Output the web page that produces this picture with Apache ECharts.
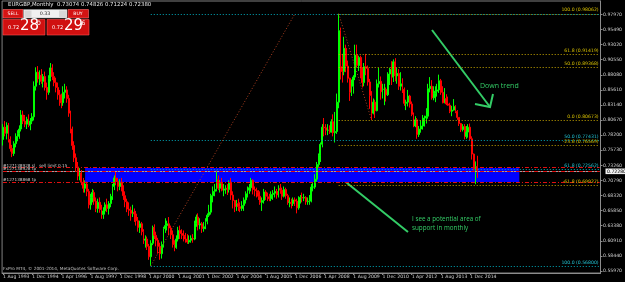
<!DOCTYPE html>
<html><head><meta charset="utf-8">
<script src="https://cdn.jsdelivr.net/npm/echarts@6/dist/echarts.min.js"></script>
<style>html,body{margin:0;padding:0;background:#000;}#c{width:625px;height:282px;}</style>
</head><body><div id="c"></div><script>
// ---- data (monthly EURGBP, Aug 1993 .. Apr 2015) ----
const firstYear = 1993, firstMonth = 7; // Aug
const totalSlots = 328;
const opens = [
0.775,0.795,0.785,0.798,0.775,
0.760,0.752,0.768,0.780,0.785,0.792,0.815,0.805,0.800,0.808,0.798,0.805,
0.812,0.862,0.885,0.874,0.880,0.870,0.878,0.860,0.852,0.875,0.892,0.878,
0.868,0.860,0.848,0.838,0.835,0.852,0.856,0.842,0.818,0.792,0.765,0.745,
0.730,0.715,0.720,0.705,0.695,0.702,0.690,0.668,0.680,0.688,0.674,0.662,
0.672,0.660,0.652,0.658,0.668,0.662,0.670,0.682,0.698,0.712,0.706,0.698,
0.705,0.697,0.683,0.673,0.661,0.659,0.654,0.656,0.653,0.642,0.631,0.637,
0.624,0.610,0.612,0.600,0.583,0.605,0.631,0.618,0.610,0.600,0.588,0.603,
0.629,0.634,0.637,0.630,0.619,0.603,0.598,0.612,0.626,0.621,0.618,0.616,
0.612,0.607,0.610,0.613,0.612,0.638,0.648,0.635,0.637,0.629,0.632,0.641,
0.651,0.656,0.683,0.690,0.693,0.709,0.695,0.703,0.692,0.694,0.695,0.693,
0.705,0.684,0.675,0.665,0.670,0.665,0.662,0.667,0.676,0.686,0.692,0.696,
0.708,0.693,0.691,0.688,0.682,0.672,0.675,0.689,0.682,0.681,0.678,0.685,
0.687,0.690,0.684,0.695,0.692,0.682,0.693,0.683,0.672,0.672,0.670,0.676,
0.674,0.663,0.676,0.680,0.679,0.680,0.673,0.674,0.674,0.697,0.697,0.710,
0.734,0.748,0.767,0.795,0.794,0.790,0.790,0.787,0.804,0.786,0.788,0.836,
0.953,0.894,0.886,0.924,0.895,0.875,0.852,0.862,0.877,0.913,0.896,0.909,
0.887,0.868,0.894,0.891,0.869,0.847,0.818,0.836,0.822,0.866,0.870,0.853,
0.857,0.857,0.848,0.882,0.890,0.877,0.902,0.879,0.883,0.862,0.866,0.857,
0.834,0.836,0.846,0.833,0.816,0.797,0.807,0.783,0.792,0.797,0.806,0.810,
0.813,0.858,0.862,0.843,0.850,0.854,0.856,0.871,0.852,0.835,0.842,0.833,
0.831,0.821,0.823,0.829,0.821,0.811,0.801,0.791,0.796,0.780,0.787,0.795,
0.776,0.751,0.727,0.73074];
const closes = [
0.795,0.785,0.798,0.775,0.760,
0.752,0.768,0.780,0.785,0.792,0.815,0.805,0.800,0.808,0.798,0.805,0.812,
0.862,0.885,0.874,0.880,0.870,0.878,0.860,0.852,0.875,0.892,0.878,0.868,
0.860,0.848,0.838,0.835,0.852,0.856,0.842,0.818,0.792,0.765,0.745,0.730,
0.715,0.720,0.705,0.695,0.702,0.690,0.668,0.680,0.688,0.674,0.662,0.672,
0.660,0.652,0.658,0.668,0.662,0.670,0.682,0.698,0.712,0.706,0.698,0.705,
0.697,0.683,0.673,0.661,0.659,0.654,0.656,0.653,0.642,0.631,0.637,0.624,
0.610,0.612,0.600,0.583,0.605,0.631,0.618,0.610,0.600,0.588,0.603,0.629,
0.634,0.637,0.630,0.619,0.603,0.598,0.612,0.626,0.621,0.618,0.616,0.612,
0.607,0.610,0.613,0.612,0.638,0.648,0.635,0.637,0.629,0.632,0.641,0.651,
0.656,0.683,0.690,0.693,0.709,0.695,0.703,0.692,0.694,0.695,0.693,0.705,
0.684,0.675,0.665,0.670,0.665,0.662,0.667,0.676,0.686,0.692,0.696,0.708,
0.693,0.691,0.688,0.682,0.672,0.675,0.689,0.682,0.681,0.678,0.685,0.687,
0.690,0.684,0.695,0.692,0.682,0.693,0.683,0.672,0.672,0.670,0.676,0.674,
0.663,0.676,0.680,0.679,0.680,0.673,0.674,0.674,0.697,0.697,0.710,0.734,
0.748,0.767,0.795,0.794,0.790,0.790,0.787,0.804,0.786,0.788,0.836,0.953,
0.894,0.886,0.924,0.895,0.875,0.852,0.862,0.877,0.913,0.896,0.909,0.887,
0.868,0.894,0.891,0.869,0.847,0.818,0.836,0.822,0.866,0.870,0.853,0.857,
0.857,0.848,0.882,0.890,0.877,0.902,0.879,0.883,0.862,0.866,0.857,0.834,
0.836,0.846,0.833,0.816,0.797,0.807,0.783,0.792,0.797,0.806,0.810,0.813,
0.858,0.862,0.843,0.850,0.854,0.856,0.871,0.852,0.835,0.842,0.833,0.831,
0.821,0.823,0.829,0.821,0.811,0.801,0.791,0.796,0.780,0.787,0.795,0.776,
0.751,0.727,0.7307,0.72380];
const highs = [
0.800,0.805,0.803,0.802,0.780,
0.766,0.772,0.785,0.790,0.798,0.823,0.822,0.815,0.812,0.816,0.810,0.818,
0.870,0.893,0.895,0.888,0.890,0.882,0.886,0.868,0.880,0.900,0.898,0.885,
0.876,0.868,0.856,0.850,0.862,0.866,0.862,0.848,0.822,0.796,0.772,0.752,
0.738,0.728,0.725,0.712,0.708,0.706,0.694,0.686,0.694,0.692,0.680,0.678,
0.680,0.668,0.664,0.672,0.678,0.674,0.686,0.702,0.716,0.722,0.712,0.710,
0.712,0.700,0.690,0.678,0.672,0.665,0.668,0.662,0.658,0.648,0.642,0.640,
0.628,0.618,0.616,0.604,0.610,0.634,0.636,0.624,0.614,0.606,0.608,0.632,
0.646,0.642,0.648,0.634,0.626,0.610,0.618,0.632,0.634,0.628,0.626,0.622,
0.620,0.618,0.618,0.620,0.642,0.652,0.654,0.646,0.640,0.640,0.646,0.654,
0.668,0.686,0.698,0.702,0.724,0.716,0.708,0.712,0.702,0.700,0.702,0.708,
0.712,0.690,0.676,0.676,0.678,0.672,0.674,0.680,0.690,0.698,0.702,0.712,
0.710,0.698,0.696,0.692,0.690,0.680,0.694,0.692,0.688,0.686,0.690,0.692,
0.698,0.694,0.700,0.702,0.696,0.698,0.696,0.686,0.680,0.678,0.680,0.680,
0.678,0.682,0.684,0.688,0.686,0.682,0.680,0.684,0.702,0.704,0.718,0.738,
0.752,0.770,0.800,0.810,0.800,0.800,0.798,0.808,0.816,0.820,0.850,0.9806,
0.958,0.915,0.943,0.930,0.904,0.876,0.873,0.880,0.930,0.930,0.912,0.912,
0.893,0.900,0.915,0.896,0.874,0.854,0.842,0.840,0.873,0.892,0.878,0.866,
0.866,0.860,0.885,0.892,0.903,0.906,0.908,0.892,0.890,0.885,0.875,0.860,
0.840,0.856,0.848,0.837,0.819,0.813,0.810,0.797,0.806,0.815,0.814,0.826,
0.866,0.877,0.872,0.862,0.862,0.866,0.881,0.874,0.862,0.859,0.849,0.845,
0.835,0.830,0.841,0.831,0.823,0.811,0.802,0.800,0.800,0.797,0.800,0.801,
0.780,0.752,0.739,0.74826];
const lows = [
0.765,0.780,0.775,0.770,0.755,
0.746,0.748,0.762,0.772,0.776,0.788,0.800,0.795,0.792,0.795,0.790,0.800,
0.806,0.855,0.868,0.864,0.866,0.860,0.855,0.840,0.848,0.870,0.872,0.862,
0.852,0.840,0.830,0.826,0.830,0.842,0.835,0.812,0.785,0.758,0.738,0.722,
0.708,0.708,0.700,0.688,0.688,0.682,0.662,0.660,0.672,0.668,0.656,0.655,
0.655,0.645,0.645,0.652,0.656,0.652,0.664,0.676,0.692,0.700,0.690,0.692,
0.690,0.676,0.664,0.656,0.650,0.642,0.648,0.640,0.634,0.624,0.622,0.618,
0.604,0.598,0.594,0.578,0.568,0.602,0.612,0.600,0.588,0.578,0.580,0.598,
0.622,0.626,0.618,0.612,0.598,0.592,0.596,0.608,0.612,0.612,0.608,0.606,
0.604,0.604,0.606,0.606,0.610,0.632,0.626,0.628,0.622,0.624,0.628,0.636,
0.648,0.652,0.672,0.682,0.690,0.692,0.688,0.690,0.682,0.686,0.684,0.688,
0.676,0.662,0.656,0.658,0.658,0.656,0.658,0.658,0.670,0.680,0.686,0.690,
0.685,0.682,0.680,0.676,0.668,0.658,0.670,0.676,0.674,0.674,0.674,0.676,
0.680,0.678,0.680,0.686,0.676,0.680,0.678,0.668,0.664,0.662,0.666,0.666,
0.654,0.660,0.670,0.672,0.674,0.668,0.668,0.668,0.672,0.690,0.694,0.706,
0.730,0.738,0.762,0.780,0.782,0.782,0.784,0.786,0.780,0.770,0.784,0.826,
0.873,0.868,0.880,0.885,0.868,0.838,0.846,0.850,0.872,0.893,0.887,0.875,
0.860,0.862,0.880,0.863,0.825,0.8067,0.816,0.810,0.821,0.860,0.840,0.842,
0.831,0.837,0.846,0.864,0.864,0.869,0.870,0.866,0.856,0.855,0.851,0.830,
0.823,0.829,0.827,0.813,0.795,0.795,0.776,0.779,0.786,0.791,0.796,0.801,
0.809,0.852,0.840,0.839,0.836,0.845,0.851,0.848,0.834,0.834,0.831,0.830,
0.818,0.813,0.822,0.818,0.807,0.797,0.787,0.788,0.775,0.776,0.778,0.774,
0.742,0.724,0.7016,0.71224];
const yTicks = [0.5597,0.5844,0.6091,0.6338,0.6585,0.6832,0.7079,0.7326,0.7573,0.7820,0.8067,0.8314,0.8561,0.8808,0.9055,0.9302,0.9549,0.9797];
const yMin = 0.5564, yMax = 1.0015;
const xLabelStep = 16;
// Fibonacci objects
const yellowLevels = [0.98062,0.91419,0.89368,0.80673,0.76569,0.69927];
const yellowNames  = ['100.0','61.8','50.0','0.0','-23.6','-61.8'];
const yellowFrom = 184, yellowTo = 202;
const cyanLevels = [0.98062,0.77431,0.72562,0.56800];
const cyanNames  = ['','50.0','61.8','100.0'];
const cyanFrom = 81, cyanTo = 160;
// order lines and support zone
const orderLevels = [0.7290,0.7228,0.7055];
const orderNames = ['#127138928 sl','#127138928 tp','#127138868 tp'];
const bidPrice = 0.72280;
const zoneTop = 0.7282, zoneBottom = 0.7053, zoneFrom = 45, zoneTo = 283;

const monNames = ['Jan','Feb','Mar','Apr','May','Jun','Jul','Aug','Sep','Oct','Nov','Dec'];
const cats = [];
for (let k = 0; k < totalSlots; k++) {
  const m = firstMonth + k;
  cats.push(monNames[m % 12] + ' ' + (firstYear + Math.floor(m / 12)));
}
const lastIdx = opens.length - 1;
const candleData = opens.map((o, i) => [o, closes[i], lows[i], highs[i]]);
const showX = (idx) => idx % xLabelStep === 0 && idx <= lastIdx;
const endCat = cats[totalSlots - 1];
const fz = 4.6;
const ff = 'DejaVu Sans';

const markLines = [];
yellowLevels.forEach((v, i) => markLines.push([
  {coord: [cats[yellowFrom], v], lineStyle: {color: '#c9a800', type: [1, 2], width: 1},
   label: {show: true, position: 'insideEndTop', distance: 1, color: '#d8c000', fontSize: fz, fontFamily: ff,
     formatter: yellowNames[i] + ' (' + v.toFixed(5) + ')'}},
  {coord: [endCat, v]}]));
cyanLevels.forEach((v, i) => markLines.push([
  {coord: [cats[cyanFrom], v], lineStyle: {color: '#00aabb', type: [1, 2], width: 1},
   label: {show: cyanNames[i] !== '', position: 'insideEndTop', distance: 1, color: '#22c4d4', fontSize: fz, fontFamily: ff,
     formatter: cyanNames[i] + ' (' + v.toFixed(5) + ')'}},
  {coord: [endCat, v]}]));
markLines.push([{coord: [cats[cyanFrom], cyanLevels[3]], lineStyle: {color: '#b04020', type: [1, 2], width: 1}, label: {show: false}},
                {coord: [cats[cyanTo], cyanLevels[0]]}]);
markLines.push([{coord: [cats[yellowFrom], yellowLevels[0]], lineStyle: {color: '#b04020', type: [1, 2], width: 1}, label: {show: false}},
                {coord: [cats[yellowTo], yellowLevels[3]]}]);
// bid line
markLines.push([{coord: [cats[0], bidPrice], lineStyle: {color: '#a0a0a0', type: 'solid', width: 1}, label: {show: false}},
                {coord: [endCat, bidPrice]}]);
orderLevels.forEach((v, i) => markLines.push([
  {coord: [cats[0], v], lineStyle: {color: '#e01010', type: [4, 2, 1, 2], width: 1},
   label: {show: true, position: 'insideStartTop', distance: 0, color: '#c8c8c8', fontSize: 4.2, fontFamily: ff,
     formatter: orderNames[i] + (i === 0 ? '   sell limit 0.15' : '')}},
  {coord: [endCat, v]}]));

const chart = echarts.init(document.getElementById('c'));
const green = '#33cc66';
chart.setOption({
  backgroundColor: '#000',
  animation: false,
  grid: {left: 2, right: 20, top: 1, bottom: 9, show: true, borderColor: '#808080', borderWidth: 1},
  xAxis: {
    type: 'category', data: cats, boundaryGap: true,
    axisLine: {lineStyle: {color: '#8c8c8c'}},
    axisTick: {show: true, interval: showX, alignWithLabel: true, length: 2, lineStyle: {color: '#8c8c8c'}},
    axisLabel: {interval: showX, formatter: v => '1 ' + v, align: 'left', fontSize: 4.6, fontFamily: ff, color: '#d0d0d0', margin: 1.5},
    splitLine: {show: false}
  },
  yAxis: {
    type: 'value', position: 'right', min: yMin, max: yMax,
    axisLine: {show: true, lineStyle: {color: '#8c8c8c'}},
    axisTick: {show: true, length: 2, customValues: yTicks, lineStyle: {color: '#8c8c8c'}},
    axisLabel: {customValues: yTicks, formatter: v => v.toFixed(5), fontSize: 4.6, fontFamily: ff, color: '#d0d0d0', margin: 2.5},
    splitLine: {show: false}
  },
  series: [
    {type: 'line', data: [], z: 1, silent: true,
     markArea: {silent: true, itemStyle: {color: '#0000ff'},
       data: [[{coord: [cats[zoneFrom], zoneTop]}, {coord: [cats[zoneTo], zoneBottom]}]]}},
    {type: 'candlestick', data: candleData, z: 2, barWidth: 1.4, silent: true,
     itemStyle: {color: '#00ff00', color0: '#ff0000', borderColor: '#00ff00', borderColor0: '#ff0000', borderWidth: 1}},
    {type: 'line', data: [], z: 3, silent: true,
     markLine: {silent: true, symbol: ['none', 'none'], animation: false, data: markLines}}
  ],
  graphic: {elements: [
    {id: 'title', type: 'text', left: 8, top: 2, style: {text: 'EURGBP,Monthly  0.73074 0.74826 0.71224 0.72380', fill: '#e8e8e8', fontSize: 5.4, fontFamily: ff}},
    {id: 'sellBtn', type: 'rect', shape: {x: 3, y: 9.5, width: 20, height: 8.5}, style: {fill: '#d41414', stroke: '#ff7070', lineWidth: 0.6}},
    {id: 'sellTxt', type: 'text', x: 13, y: 13.8, style: {text: 'SELL', fill: '#fff', fontSize: 4.6, fontFamily: ff, align: 'center', verticalAlign: 'middle'}},
    {id: 'lotBox', type: 'rect', shape: {x: 23.5, y: 9.5, width: 43.5, height: 8.5}, style: {fill: '#f0f0f0', stroke: '#a0a0a0', lineWidth: 0.5}},
    {id: 'lotL', type: 'rect', shape: {x: 24.5, y: 10.5, width: 7, height: 6.5}, style: {fill: '#d8d8d8'}},
    {id: 'lotR', type: 'rect', shape: {x: 59, y: 10.5, width: 7, height: 6.5}, style: {fill: '#d8d8d8'}},
    {id: 'lotTxt', type: 'text', x: 45, y: 13.8, style: {text: '0.33', fill: '#202020', fontSize: 4.8, fontFamily: ff, align: 'center', verticalAlign: 'middle'}},
    {id: 'buyBtn', type: 'rect', shape: {x: 68, y: 9.5, width: 20.5, height: 8.5}, style: {fill: '#d41414', stroke: '#ff7070', lineWidth: 0.6}},
    {id: 'buyTxt', type: 'text', x: 78, y: 13.8, style: {text: 'BUY', fill: '#fff', fontSize: 4.6, fontFamily: ff, align: 'center', verticalAlign: 'middle'}},
    {id: 'sellBox', type: 'rect', shape: {x: 3, y: 19.5, width: 42, height: 15.5}, style: {fill: '#d01010', stroke: '#ff5050', lineWidth: 0.6}},
    {id: 'sellP1', type: 'text', x: 8, y: 30.5, style: {text: '0.72', fill: '#fff', fontSize: 5, fontFamily: ff, verticalAlign: 'bottom'}},
    {id: 'sellP2', type: 'text', x: 20, y: 34, style: {text: '28', fill: '#fff', fontSize: 15, fontFamily: ff, verticalAlign: 'bottom'}},
    {id: 'sellP3', type: 'text', x: 37, y: 20.5, style: {text: '0', fill: '#fff', fontSize: 6, fontFamily: ff}},
    {id: 'buyBox', type: 'rect', shape: {x: 47, y: 19.5, width: 42, height: 15.5}, style: {fill: '#d01010', stroke: '#ff5050', lineWidth: 0.6}},
    {id: 'buyP1', type: 'text', x: 52, y: 30.5, style: {text: '0.72', fill: '#fff', fontSize: 5, fontFamily: ff, verticalAlign: 'bottom'}},
    {id: 'buyP2', type: 'text', x: 64, y: 34, style: {text: '29', fill: '#fff', fontSize: 15, fontFamily: ff, verticalAlign: 'bottom'}},
    {id: 'buyP3', type: 'text', x: 81.5, y: 20.5, style: {text: '6', fill: '#fff', fontSize: 6, fontFamily: ff}},
    {id: 'copy', type: 'text', left: 3, top: 267, style: {text: 'FxPro MT4, \u00a9 2001-2014, MetaQuotes Software Corp.', fill: '#c0c0c0', fontSize: 4.3, fontFamily: ff}},
    {id: 'dtTxt', type: 'text', x: 480, y: 82, style: {text: 'Down trend', fill: green, fontSize: 7, fontFamily: 'Open Sans'}},
    {id: 'dtLine', type: 'polyline', shape: {points: [[432, 30], [490, 107]]}, style: {stroke: green, lineWidth: 2}},
    {id: 'dtHead', type: 'polyline', shape: {points: [[475, 104], [490, 107], [493, 94]]}, style: {stroke: green, lineWidth: 2, fill: null}},
    {id: 'supTxt1', type: 'text', x: 412, y: 216, style: {text: 'I see a potential area of', fill: green, fontSize: 6.3, fontFamily: 'Open Sans'}},
    {id: 'supTxt2', type: 'text', x: 412, y: 225, style: {text: 'support in monthly', fill: green, fontSize: 6.3, fontFamily: 'Open Sans'}},
    {id: 'supLine', type: 'polyline', shape: {points: [[342, 179], [408, 232]]}, style: {stroke: green, lineWidth: 2}}
  ]}
});
// current price tag on the price axis
const py = chart.convertToPixel({yAxisIndex: 0}, bidPrice);
chart.setOption({graphic: {elements: [
  {id: 'tagBox', type: 'rect', shape: {x: 605.5, y: py - 2.8, width: 19.5, height: 5.6}, style: {fill: '#f0f0f0'}},
  {id: 'tagTxt', type: 'text', x: 607, y: py, style: {text: bidPrice.toFixed(5), fill: '#000', fontSize: 4.6, fontFamily: ff, verticalAlign: 'middle'}}
]}});
</script></body></html>
